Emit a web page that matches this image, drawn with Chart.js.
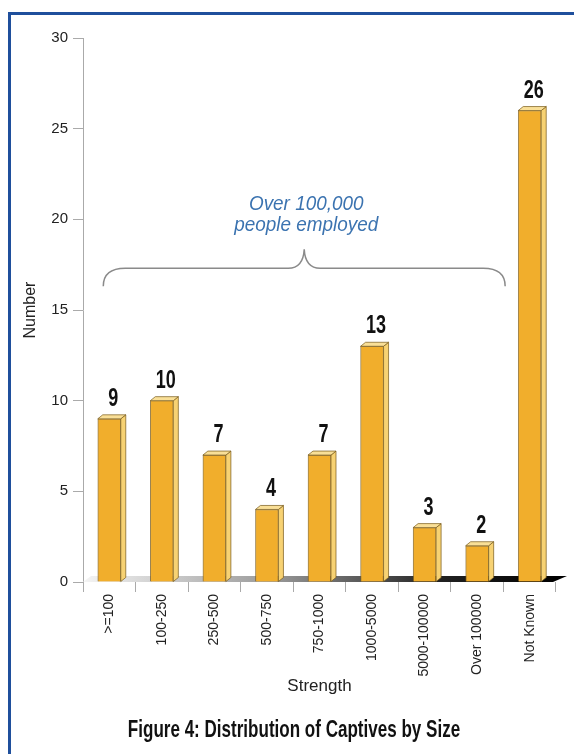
<!DOCTYPE html>
<html>
<head>
<meta charset="utf-8">
<title>Distribution of Captives by Size</title>
<script src="https://cdn.jsdelivr.net/npm/chart.js@4.4.0/dist/chart.umd.min.js"></script>
<style>
  body { margin: 0; background: #fff; }
  canvas { display: block; }
</style>
</head>
<body>
<canvas id="captiveChart" width="574" height="754"></canvas>
<script>
const categories = ['>=100', '100-250', '250-500', '500-750', '750-1000', '1000-5000', '5000-100000', 'Over 100000', 'Not Known'];
const counts = [9, 10, 7, 4, 7, 13, 3, 2, 26];
const noteLines = ['Over 100,000', 'people employed'];
const captionText = 'Figure 4: Distribution of Captives by Size';

const sans = "'Liberation Sans', Arial, sans-serif";

// squeezed text, the original uses a condensed face
function narrowText(ctx, text, x, y, font, squeeze) {
    ctx.save();
    ctx.font = font;
    ctx.translate(x, y);
    ctx.scale(squeeze, 1);
    ctx.fillText(text, 0, 0);
    ctx.restore();
}

// frame, floor, 3d faces, values, brace and caption
const decoPlugin = {
    id: 'deco',
    beforeDraw(chart) {
        const ctx = chart.ctx;
        ctx.save();
        ctx.fillStyle = '#fff';
        ctx.fillRect(0, 0, chart.width, chart.height);
        ctx.fillStyle = '#1f4f9c';
        ctx.fillRect(8, 12, chart.width - 8, 3);
        ctx.fillRect(8, 12, 3, chart.height - 12);
        ctx.restore();
    },
    beforeDatasetsDraw(chart) {
        const ctx = chart.ctx;
        const area = chart.chartArea;
        const base = area.bottom;
        const grad = ctx.createLinearGradient(area.left, 0, area.right, 0);
        grad.addColorStop(0, '#f4f4f4');
        grad.addColorStop(0.4, '#9a9a9a');
        grad.addColorStop(0.75, '#222');
        grad.addColorStop(1, '#000');
        ctx.save();
        ctx.fillStyle = grad;
        ctx.beginPath();
        ctx.moveTo(area.left, base);
        ctx.lineTo(area.left + 8, base - 6);
        ctx.lineTo(area.right + 11, base - 6);
        ctx.lineTo(area.right - 3, base);
        ctx.closePath();
        ctx.fill();
        ctx.restore();
    },
    afterDatasetsDraw(chart) {
        const ctx = chart.ctx;
        const meta = chart.getDatasetMeta(0);
        const dx = 5, dy = 4;
        ctx.save();
        meta.data.forEach((bar, i) => {
            const half = bar.width / 2;
            const left = bar.x - half;
            const right = bar.x + half;
            ctx.fillStyle = '#f7d273';
            ctx.strokeStyle = 'rgba(120,90,25,0.7)';
            ctx.lineWidth = 1;
            ctx.beginPath();
            ctx.moveTo(right, bar.y);
            ctx.lineTo(right + dx, bar.y - dy);
            ctx.lineTo(right + dx, bar.base - dy);
            ctx.lineTo(right, bar.base);
            ctx.closePath();
            ctx.fill();
            ctx.stroke();
            ctx.fillStyle = '#f9df97';
            ctx.beginPath();
            ctx.moveTo(left, bar.y);
            ctx.lineTo(left + dx, bar.y - dy);
            ctx.lineTo(right + dx, bar.y - dy);
            ctx.lineTo(right, bar.y);
            ctx.closePath();
            ctx.fill();
            ctx.stroke();

            ctx.fillStyle = '#111';
            ctx.textAlign = 'center';
            ctx.textBaseline = 'alphabetic';
            narrowText(ctx, String(counts[i]), bar.x + 4, bar.y - 13, 'bold 25px ' + sans, 0.72);
        });

        // brace over the first eight groups
        const y = chart.scales.y;
        const x0 = meta.data[0].x - 6;
        const x1 = meta.data[7].x + 28;
        const xm = (x0 + x1) / 2;
        const yH = y.getPixelForValue(17.3);
        ctx.strokeStyle = '#8a8a8a';
        ctx.lineWidth = 1.5;
        ctx.beginPath();
        ctx.moveTo(x0, yH + 18);
        ctx.quadraticCurveTo(x0, yH, x0 + 22, yH);
        ctx.lineTo(xm - 16, yH);
        ctx.quadraticCurveTo(xm - 1, yH, xm, yH - 19);
        ctx.quadraticCurveTo(xm + 1, yH, xm + 16, yH);
        ctx.lineTo(x1 - 22, yH);
        ctx.quadraticCurveTo(x1, yH, x1, yH + 18);
        ctx.stroke();

        ctx.fillStyle = '#3b73b0';
        ctx.textAlign = 'center';
        ctx.textBaseline = 'alphabetic';
        narrowText(ctx, noteLines[0], xm + 2, yH - 58, 'italic 21px ' + sans, 0.9);
        narrowText(ctx, noteLines[1], xm + 2, yH - 37, 'italic 21px ' + sans, 0.9);
        ctx.restore();
    },
    afterDraw(chart) {
        const ctx = chart.ctx;
        ctx.save();
        ctx.fillStyle = '#111';
        ctx.textAlign = 'center';
        ctx.textBaseline = 'alphabetic';
        narrowText(ctx, captionText, 294, 737, 'bold 24px ' + sans, 0.71);
        ctx.restore();
    }
};

const ctx = document.getElementById('captiveChart').getContext('2d');

new Chart(ctx, {
    type: 'bar',
    data: {
        labels: categories,
        datasets: [{
            data: counts,
            backgroundColor: '#f1ae2c',
            borderColor: 'rgba(120,90,25,0.75)',
            borderWidth: 1,
            barThickness: 23
        }]
    },
    plugins: [decoPlugin],
    options: {
        responsive: false,
        animation: false,
        devicePixelRatio: 1,
        layout: {
            padding: { top: 38, right: 18, left: 0, bottom: 50 }
        },
        plugins: {
            legend: { display: false },
            tooltip: { enabled: false }
        },
        scales: {
            x: {
                afterFit: (scale) => { scale.height = 122; },
                ticks: {
                    minRotation: 90,
                    maxRotation: 90,
                    autoSkip: false,
                    padding: 2,
                    color: '#222',
                    font: { family: sans, size: 14 }
                },
                grid: {
                    drawOnChartArea: false,
                    tickLength: 10,
                    color: '#aaa',
                    offset: true
                },
                border: { display: false },
                title: {
                    display: true,
                    text: 'Strength',
                    color: '#222',
                    font: { family: sans, size: 17 },
                    padding: { top: 0, bottom: 7 }
                }
            },
            y: {
                min: 0,
                max: 30,
                afterFit: (scale) => { scale.width = 83; },
                ticks: {
                    stepSize: 5,
                    padding: 5,
                    color: '#222',
                    font: { family: sans, size: 15 }
                },
                grid: {
                    drawOnChartArea: false,
                    tickLength: 10,
                    color: '#aaa'
                },
                border: { color: '#aaa' },
                title: {
                    display: true,
                    text: 'Number',
                    color: '#222',
                    font: { family: sans, size: 16 },
                    padding: { top: 21, bottom: 0 }
                }
            }
        }
    }
});
</script>
</body>
</html>
